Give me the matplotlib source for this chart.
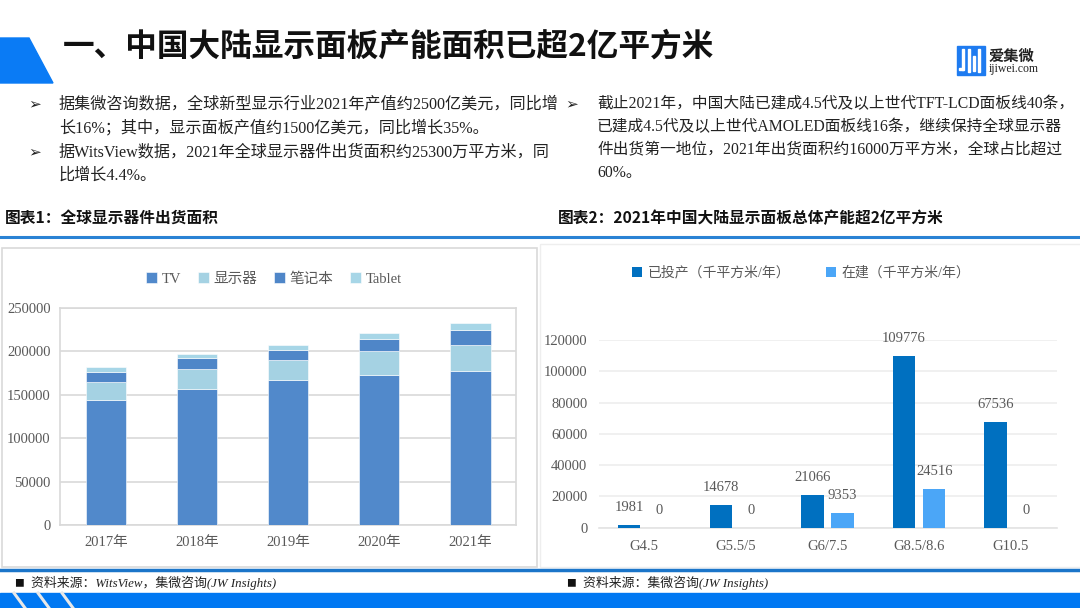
import matplotlib
matplotlib.use('Agg')
import matplotlib.pyplot as plt
from matplotlib.patches import Rectangle, Polygon

W, H = 1080, 608

# chart 1: global display shipment area
years = ['2017年', '2018年', '2019年', '2020年', '2021年']
tv = [144000, 156500, 166500, 172000, 177000]
monitor = [21000, 23500, 23000, 28500, 30000]
notebook = [11000, 12000, 12300, 14000, 17500]
tablet = [5500, 5000, 5000, 6500, 7500]
series1_names = ['TV', '显示器', '笔记本', 'Tablet']

# chart 2: mainland China panel capacity by generation
gens = ['G4.5', 'G5.5/5', 'G6/7.5', 'G8.5/8.6', 'G10.5']
in_prod = [1981, 14678, 21066, 109776, 67536]
building = [0, 0, 9353, 24516, 0]
series2_names = ['已投产（千平方米/年）', '在建（千平方米/年）']

SERIF = ['Liberation Serif', 'Noto Sans CJK SC', 'DejaVu Sans']
SANS = ['Noto Sans CJK SC', 'DejaVu Sans']
GREY = '#595959'

plt.rcParams['font.family'] = SERIF


def px(x0, y0, x1, y1):
    return [x0 / W, 1 - y1 / H, (x1 - x0) / W, (y1 - y0) / H]


fig = plt.figure(figsize=(W / 100, H / 100), dpi=100)
bg = fig.add_axes([0, 0, 1, 1])
bg.set_xlim(0, W)
bg.set_ylim(H, 0)
bg.axis('off')

# header
bg.add_patch(Polygon([(0, 38), (29, 38), (53, 83), (0, 83)], closed=True, color='#0A7BF5'))
bg.text(63, 47, '一、中国大陆显示面板产能面积已超2亿平方米', family=SANS, weight='bold',
        fontsize=22.8, va='center', ha='left', color='#111111')

# logo
bg.add_patch(Rectangle((957, 46), 28, 29, color='#1E7BF0'))
for x0, y0, y1 in [(962, 49, 70), (968, 49, 72), (973, 56, 71), (978, 49, 72)]:
    bg.add_patch(Rectangle((x0, y0), 2.2, y1 - y0, color='white'))
bg.add_patch(Rectangle((959, 68), 4, 2.2, color='white'))
bg.text(989, 56, '爱集微', family=SANS, weight='bold', fontsize=11, va='center', color='#222222')
bg.text(989, 69, 'ijiwei.com', fontsize=8.5, va='center', color='#222222')

# bullet text
left_lines = [(104, True, '据集微咨询数据，全球新型显示行业2021年产值约2500亿美元，同比增'),
              (128, False, '长16%；其中，显示面板产值约1500亿美元，同比增长35%。'),
              (152, True, '据WitsView数据，2021年全球显示器件出货面积约25300万平方米，同'),
              (176, False, '比增长4.4%。')]
right_lines = [(104, True, '截止2021年，中国大陆已建成4.5代及以上世代TFT-LCD面板线40条，'),
               (127, False, '已建成4.5代及以上世代AMOLED面板线16条，继续保持全球显示器'),
               (150, False, '件出货第一地位，2021年出货面积约16000万平方米，全球占比超过'),
               (173, False, '60%。')]
for (lines, bx, tx, fs) in [(left_lines, 28, 59, 11.6), (right_lines, 565, 597, 11.3)]:
    for y, bullet, s in lines:
        if bullet:
            bg.text(bx, y, '➢', family=['DejaVu Sans'], fontsize=11, va='center', color='#222222')
        bg.text(tx, y, s, fontsize=fs, va='center', color='#222222')

# section labels
bg.text(5, 218, '图表1：全球显示器件出货面积', family=SANS, weight='bold', fontsize=11.3,
        va='center', color='#111111')
bg.text(558, 218, '图表2：2021年中国大陆显示面板总体产能超2亿平方米', family=SANS, weight='bold',
        fontsize=11.3, va='center', color='#111111')
bg.plot([0, W], [237, 237], color='#2A82D4', lw=2.2)

# panels
bg.add_patch(Rectangle((2, 248), 535, 319, facecolor='white', edgecolor='#D9D9D9', lw=1.2))
bg.add_patch(Rectangle((540, 244), 545, 323, facecolor='white', edgecolor='#EEEEEE', lw=1.0))

# footer
bg.plot([0, W], [570, 570], color='#1B75C9', lw=2.5)
bg.add_patch(Rectangle((0, 593), W, 16, color='#0078F2'))
for x0 in [14, 38, 62]:
    bg.plot([x0, x0 + 11], [593, 608], color='#E8E8E8', lw=2.2)
for bx, s in [(14, '资料来源：WitsView，集微咨询(JW Insights)'), (566, '资料来源：集微咨询(JW Insights)')]:
    bg.text(bx, 583, '■', family=SANS, fontsize=7, va='center', color='#111111')
    bg.text(bx + 17, 583, s, fontsize=9.3, style='italic', va='center', color='#222222')

# ---- chart 1 ----
ax1 = fig.add_axes(px(60.3, 307.7, 515.9, 525))
ax1.set_facecolor('none')
colors1 = ['#5189CB', '#A5D2E3', '#4F86C8', '#A7D6E7']
x = list(range(len(years)))
bottom = [0] * len(years)
handles = []
for vals, c in zip([tv, monitor, notebook, tablet], colors1):
    b = ax1.bar(x, vals, 0.445, bottom=bottom, color=c, edgecolor='white', linewidth=0.4, zorder=3)
    handles.append(b)
    bottom = [p + q for p, q in zip(bottom, vals)]
ax1.set_xlim(-0.5, 4.5)
ax1.set_ylim(0, 250000)
ax1.set_yticks(range(0, 250001, 50000))
ax1.set_xticks(x)
ax1.set_xticklabels(years)
ax1.grid(axis='y', color='#D9D9D9', lw=1.2, zorder=0)
for sp in ax1.spines.values():
    sp.set_color('#D9D9D9')
    sp.set_linewidth(1.2)
ax1.tick_params(length=0, labelsize=10.5, colors=GREY)
ax1.tick_params(axis='y', pad=7)
ax1.tick_params(axis='x', pad=8)
fig.legend(handles, series1_names, loc='center', bbox_to_anchor=(274 / W, 1 - 279 / H), ncol=4,
           frameon=False, fontsize=10.5, handlelength=0.75, handleheight=0.75, handletextpad=0.35,
           columnspacing=1.1, labelcolor=GREY)

# ---- chart 2 ----
ax2 = fig.add_axes(px(598.5, 340, 1056.5, 527.7))
ax2.set_facecolor('none')
w = 0.245
off = 0.165
xs = list(range(len(gens)))
b1 = ax2.bar([i - off for i in xs], in_prod, w, color='#0070C0', zorder=3)
b2 = ax2.bar([i + off for i in xs], building, w, color='#4BA6F7', zorder=3)
for bars, vals in [(b1, in_prod), (b2, building)]:
    for r, v in zip(bars, vals):
        ax2.annotate(str(v), (r.get_x() + r.get_width() / 2, v), xytext=(0, 12.5),
                     textcoords='offset points', ha='center', va='center', fontsize=10.5,
                     color=GREY, annotation_clip=False)
ax2.set_xlim(-0.5, 4.5)
ax2.set_ylim(0, 120000)
ax2.set_yticks(range(0, 120001, 20000))
ax2.set_xticks(xs)
ax2.set_xticklabels(gens)
ax2.grid(axis='y', color='#EDEDED', lw=1.2, zorder=0)
for k in ['left', 'right', 'top']:
    ax2.spines[k].set_visible(False)
ax2.spines['bottom'].set_color('#E3E3E3')
ax2.spines['bottom'].set_linewidth(1.2)
ax2.tick_params(length=0, labelsize=10.5, colors=GREY)
ax2.tick_params(axis='y', pad=8)
ax2.tick_params(axis='x', pad=9)
fig.legend([b1, b2], series2_names, loc='center', bbox_to_anchor=(801 / W, 1 - 273 / H), ncol=2,
           frameon=False, fontsize=10, handlelength=0.75, handleheight=0.75, handletextpad=0.35,
           columnspacing=2.6, labelcolor=GREY)

fig.savefig('out.png', dpi=100)
